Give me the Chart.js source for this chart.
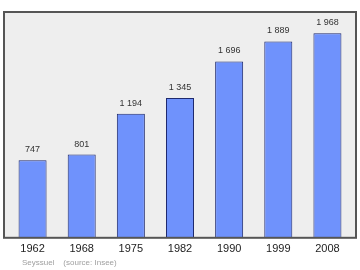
<!DOCTYPE html>
<html>
<head>
<meta charset="utf-8">
<script src="https://cdn.jsdelivr.net/npm/chart.js@4"></script>
<style>
  html, body { margin: 0; padding: 0; background: #fff; }
  #wrap { width: 360px; height: 270px; }
</style>
</head>
<body>
<div id="wrap"><canvas id="popChart" width="360" height="270"></canvas></div>
<script>
const years = ['1962', '1968', '1975', '1982', '1990', '1999', '2008'];
const population = [747, 801, 1194, 1345, 1696, 1889, 1968];
const valueLabels = ['747', '801', '1 194', '1 345', '1 696', '1 889', '1 968'];
const sourceText = 'Seyssuel    (source: Insee)';

// plot frame, value labels and source line
const framePlugin = {
    id: 'frame',
    beforeDatasetsDraw(chart) {
        const { ctx, chartArea: a } = chart;
        ctx.save();
        ctx.fillStyle = '#eeeeee';
        ctx.fillRect(a.left - 4, a.top, a.right - a.left + 8, a.bottom - a.top);
        ctx.restore();
    },
    afterDatasetsDraw(chart) {
        const { ctx, chartArea: a } = chart;
        ctx.save();
        ctx.strokeStyle = '#555555';
        ctx.lineWidth = 2;
        ctx.strokeRect(a.left - 4, a.top, a.right - a.left + 8, a.bottom - a.top);

        ctx.fillStyle = '#333333';
        ctx.font = '9px "Liberation Sans", Arial, sans-serif';
        ctx.textAlign = 'center';
        ctx.textBaseline = 'bottom';
        chart.getDatasetMeta(0).data.forEach((bar, i) => {
            ctx.fillText(valueLabels[i], bar.x, bar.y - 6);
        });

        ctx.fillStyle = '#a0a0a0';
        ctx.font = '8px "Liberation Sans", Arial, sans-serif';
        ctx.textAlign = 'left';
        ctx.textBaseline = 'middle';
        ctx.fillText(sourceText, 22, 263);
        ctx.restore();
    }
};

new Chart(document.getElementById('popChart').getContext('2d'), {
    type: 'bar',
    data: {
        labels: years,
        datasets: [{
            data: population,
            backgroundColor: '#6f92fc',
            borderColor: '#1f2a6e',
            borderWidth: 1,
            barPercentage: 0.57,
            categoryPercentage: 1
        }]
    },
    options: {
        responsive: false,
        animation: false,
        layout: { padding: { left: 8, right: 8, top: 12, bottom: 17 } },
        plugins: {
            legend: { display: false },
            tooltip: { enabled: false }
        },
        scales: {
            x: {
                grid: { display: false },
                border: { display: false },
                ticks: {
                    color: '#222222',
                    padding: -3,
                    font: { family: '"Liberation Sans", Arial, sans-serif', size: 11 }
                }
            },
            y: {
                display: false,
                min: 0,
                max: 2172
            }
        }
    },
    plugins: [framePlugin]
});
</script>
</body>
</html>
